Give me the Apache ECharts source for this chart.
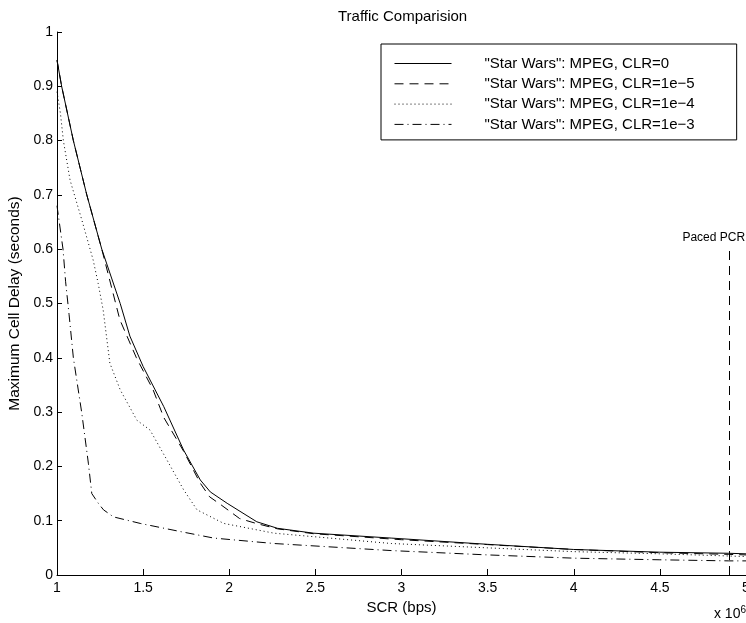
<!DOCTYPE html>
<html>
<head>
<meta charset="utf-8">
<script src="https://cdn.jsdelivr.net/npm/echarts@6/dist/echarts.min.js"></script>
<style>html,body{margin:0;padding:0;background:#fff}#c{width:746px;height:623px}</style>
</head>
<body>
<div id="c"></div>
<script>
const seriesNames = ['"Star Wars": MPEG, CLR=0', '"Star Wars": MPEG, CLR=1e\u22125', '"Star Wars": MPEG, CLR=1e\u22124', '"Star Wars": MPEG, CLR=1e\u22123'];
const xClr0 = [1, 1.027, 1.095, 1.173, 1.26, 1.367, 1.423, 1.5, 1.62, 1.735, 1.832, 1.89, 1.988, 2.16, 2.28, 2.49, 2.94, 3.5, 4, 4.5, 4.9, 5];
const yClr0 = [0.948, 0.90, 0.80, 0.70, 0.60, 0.50, 0.44, 0.384, 0.31, 0.23, 0.175, 0.153, 0.132, 0.098, 0.086, 0.077, 0.068, 0.0565, 0.047, 0.042, 0.040, 0.039];
const xClr5 = [1, 1.027, 1.095, 1.173, 1.26, 1.365, 1.461, 1.558, 1.62, 1.735, 1.83, 1.886, 1.953, 2.06, 2.156, 2.28, 2.49, 3, 3.5, 4, 4.5, 4.9, 5];
const yClr5 = [0.948, 0.90, 0.80, 0.70, 0.60, 0.47, 0.40, 0.341, 0.29, 0.228, 0.17, 0.144, 0.129, 0.104, 0.095, 0.085, 0.076, 0.065, 0.056, 0.047, 0.041, 0.038, 0.037];
const xClr4 = [1, 1.02, 1.037, 1.076, 1.144, 1.21, 1.239, 1.268, 1.307, 1.367, 1.464, 1.54, 1.638, 1.735, 1.813, 1.968, 2.26, 2.94, 3.5, 4, 4.5, 4.9, 5];
const yClr4 = [0.89, 0.85, 0.80, 0.727, 0.654, 0.58, 0.537, 0.488, 0.39, 0.341, 0.285, 0.267, 0.212, 0.157, 0.12, 0.095, 0.077, 0.058, 0.050, 0.043, 0.039, 0.035, 0.034];
const xClr3 = [1, 1.035, 1.05, 1.07, 1.095, 1.144, 1.182, 1.202, 1.24, 1.27, 1.328, 1.483, 1.716, 1.91, 2.26, 2.94, 3.5, 4, 4.5, 4.9, 5];
const yClr3 = [0.68, 0.60, 0.54, 0.48, 0.40, 0.298, 0.206, 0.15, 0.132, 0.12, 0.107, 0.095, 0.08, 0.068, 0.058, 0.045, 0.037, 0.031, 0.028, 0.026, 0.026];
const pcrX = 4.9;
const pcrTop = 0.6;
const pcrLabel = 'Paced PCR';

const FONT = '"Liberation Sans", Arial, Helvetica, sans-serif';
const pairs = (xs, ys) => xs.map((x, i) => [x, ys[i]]);
const dashTypes = ['solid', [9, 6], [1, 3], [9, 4, 1, 4]];
const xsAll = [xClr0, xClr5, xClr4, xClr3];
const ysAll = [yClr0, yClr5, yClr4, yClr3];

const series = seriesNames.map((name, i) => ({
  name: name,
  type: 'line',
  data: pairs(xsAll[i], ysAll[i]),
  symbol: 'none',
  silent: true,
  animation: false,
  lineStyle: { color: '#000', width: 1, type: dashTypes[i] },
  itemStyle: { color: '#000' }
}));
series[0].markLine = {
  symbol: 'none',
  silent: true,
  animation: false,
  lineStyle: { color: '#000', width: 1, type: [9, 6] },
  label: {
    show: true, position: 'end', formatter: pcrLabel, color: '#000',
    fontFamily: FONT, fontSize: 12, distance: 6, padding: [0, 30, 0, 0]
  },
  data: [[{ coord: [pcrX, 0] }, { coord: [pcrX, pcrTop] }]]
};

const chart = echarts.init(document.getElementById('c'), null, { renderer: 'canvas' });
chart.setOption({
  animation: false,
  backgroundColor: '#fff',
  title: {
    text: 'Traffic Comparision', left: 333, top: 4,
    textStyle: { fontFamily: FONT, fontSize: 15, fontWeight: 'normal', color: '#000' }
  },
  grid: { left: 57, right: 0, top: 32, bottom: 48, containLabel: false, outerBoundsMode: 'none' },
  legend: {
    orient: 'vertical', left: 381, top: 44,
    padding: [12, 42, 8, 13],
    itemWidth: 57, itemHeight: 14, itemGap: 5.3,
    borderColor: '#000', borderWidth: 1,
    selectedMode: false,
    itemStyle: { opacity: 0, borderWidth: 0 },
    lineStyle: { width: 1 },
    textStyle: { fontFamily: FONT, fontSize: 15, color: '#000', padding: [0, 0, 0, 28] },
    data: seriesNames
  },
  xAxis: {
    type: 'value', min: 1, max: 5, interval: 0.5,
    name: 'SCR (bps)', nameLocation: 'middle', nameGap: 23,
    nameTextStyle: { fontFamily: FONT, fontSize: 15, color: '#000', verticalAlign: 'top' },
    axisLine: { show: true, lineStyle: { color: '#000', width: 1 } },
    axisTick: { show: true, inside: true, length: 6, lineStyle: { color: '#000' } },
    axisLabel: { fontFamily: FONT, fontSize: 14, color: '#000', margin: 6 },
    splitLine: { show: false }
  },
  yAxis: {
    type: 'value', min: 0, max: 1, interval: 0.1,
    name: 'Maximum Cell Delay (seconds)', nameLocation: 'middle', nameGap: 29,
    nameTextStyle: { fontFamily: FONT, fontSize: 15.5, color: '#000' },
    axisLine: { show: true, lineStyle: { color: '#000', width: 1 } },
    axisTick: { show: true, inside: true, length: 5, lineStyle: { color: '#000' } },
    axisLabel: { fontFamily: FONT, fontSize: 14, color: '#000', margin: 4 },
    splitLine: { show: false }
  },
  graphic: [{
    type: 'text', right: 0, bottom: 2,
    style: {
      text: '{a|x 10}{b|6}',
      rich: {
        a: { fontFamily: FONT, fontSize: 14, fill: '#000' },
        b: { fontFamily: FONT, fontSize: 10, fill: '#000', verticalAlign: 'top', padding: [0, 0, 8, 0] }
      }
    }
  }],
  series: series
});
</script>
</body>
</html>
